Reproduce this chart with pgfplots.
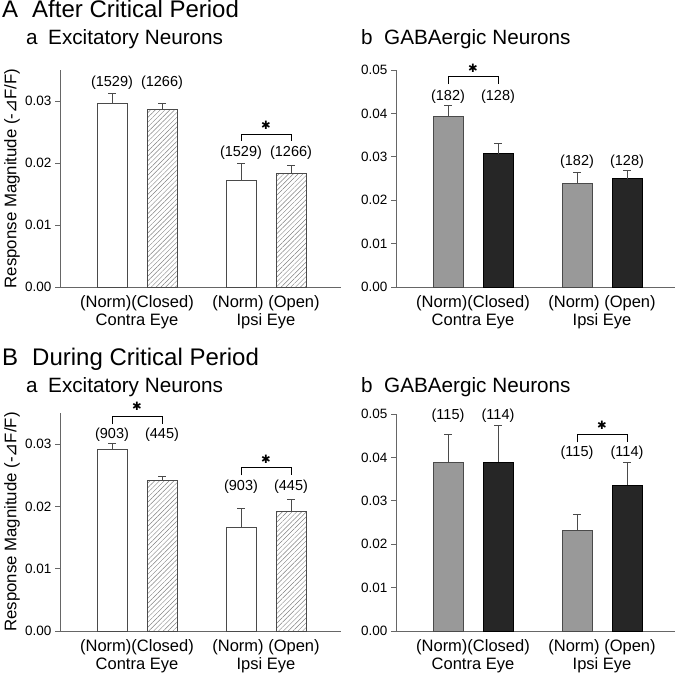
\documentclass[border=0pt]{standalone}
\usepackage{fontspec}
\setmainfont{Liberation Sans}
\newfontfamily\dejavu{DejaVu Sans}
\usepackage{pgfplots}
\usepackage{pgfplotstable}
\pgfplotsset{compat=1.18}
\usetikzlibrary{patterns.meta}
\definecolor{axgray}{HTML}{666666}
\definecolor{edgegray}{HTML}{4A4A4A}
\definecolor{barfill}{HTML}{999999}
\definecolor{darkfill}{HTML}{262626}
\definecolor{hatch}{HTML}{808080}

% data: x  y  err
\pgfplotstableread{
x y e
52 0.0296 0.0016
181 0.0172 0.0028
}\AaNorm
\pgfplotstableread{
x y e
102 0.0287 0.0009
231 0.0183 0.0013
}\AaDep
\pgfplotstableread{
x y e
52 0.0392 0.0027
181 0.0239 0.0026
}\AbNorm
\pgfplotstableread{
x y e
102 0.0307 0.0024
231 0.0250 0.0018
}\AbDep
\pgfplotstableread{
x y e
52 0.0292 0.0009
181 0.0167 0.0030
}\BaNorm
\pgfplotstableread{
x y e
102 0.0241 0.0007
231 0.0192 0.0019
}\BaDep
\pgfplotstableread{
x y e
52 0.0389 0.0063
181 0.0231 0.0038
}\BbNorm
\pgfplotstableread{
x y e
102 0.0389 0.0085
231 0.0336 0.0053
}\BbDep

\tikzset{
  nlab/.style={font=\fontsize{14.5}{14.5}\selectfont},
  star/.style={font=\dejavu\fontsize{11.5}{12}\selectfont, inner sep=0pt},
}
\pgfplotsset{
  panel/.style={
    scale only axis, clip=false,
    xmin=0, ymin=0,
    axis x line=bottom, axis y line=left,
    axis line style={-, draw=axgray, line width=0.9pt},
    xtick={77,206},
    x tick style={draw=none},
    xticklabels={{(Norm)(Closed)\\Contra Eye},{(Norm) (Open)\\Ipsi Eye}},
    xticklabel style={align=center, font=\fontsize{16.5}{18}\selectfont, inner sep=0pt, anchor=north, yshift=-3pt},
    y tick style={draw=axgray, line width=0.9pt},
    tick align=outside, major tick length=5pt,
    scaled y ticks=false,
    /pgf/number format/assume math mode=true,
    yticklabel style={font=\fontsize{13.5}{13.5}\selectfont, /pgf/number format/fixed, /pgf/number format/fixed zerofill, /pgf/number format/precision=2},
    ylabel style={at={(axis description cs:-0.171,0.5)}, anchor=center, font=\fontsize{16.8}{17}\selectfont},
  },
  normbar/.style={ybar, bar width=30pt, bar shift=0pt, draw=edgegray, line width=0.9pt, fill=white},
  hatchbar/.style={ybar, bar width=30pt, bar shift=0pt, draw=edgegray, line width=0.9pt,
     pattern={Lines[angle=45, distance=3.4pt, line width=0.45pt]}, pattern color=hatch},
  graybar/.style={ybar, bar width=30pt, bar shift=0pt, draw=edgegray, line width=0.9pt, fill=barfill},
  blackbar/.style={ybar, bar width=30pt, bar shift=0pt, draw=black, line width=0.9pt, fill=darkfill},
  bracket/.style={sharp plot, no marks, draw=black, line width=0.9pt, forget plot},
  errb/.style={error bars/.cd, y dir=plus, y explicit,
    error bar style={line width=0.9pt, draw=edgegray},
    error mark options={rotate=90, mark size=4pt, line width=0.9pt, draw=edgegray}},
}

\newcommand{\ttl}[1]{\fontsize{24}{24}\selectfont #1}
\newcommand{\sttl}[1]{\fontsize{20.7}{21}\selectfont #1}

\begin{document}
\begin{tikzpicture}[x=1pt,y=1pt]

% ---------- titles ----------
\node[anchor=base west, inner sep=0] at (2,-18) {\ttl{A}};
\node[anchor=base west, inner sep=0] at (32,-18) {\ttl{After Critical Period}};
\node[anchor=base west, inner sep=0] at (26,-45) {\sttl{a}};
\node[anchor=base west, inner sep=0] at (48,-45) {\sttl{Excitatory Neurons}};
\node[anchor=base west, inner sep=0] at (361,-45) {\sttl{b}};
\node[anchor=base west, inner sep=0] at (384,-45) {\sttl{GABAergic Neurons}};

\node[anchor=base west, inner sep=0] at (2,-365) {\ttl{B}};
\node[anchor=base west, inner sep=0] at (32,-365) {\ttl{During Critical Period}};
\node[anchor=base west, inner sep=0] at (26,-392) {\sttl{a}};
\node[anchor=base west, inner sep=0] at (48,-392) {\sttl{Excitatory Neurons}};
\node[anchor=base west, inner sep=0] at (361,-392) {\sttl{b}};
\node[anchor=base west, inner sep=0] at (384,-392) {\sttl{GABAergic Neurons}};

% ---------- A a ----------
\begin{axis}[panel, at={(60pt,-287pt)}, anchor=south west, width=281pt, height=217pt,
  xmax=281, ymax=0.035, ytick={0,0.01,0.02,0.03},
  ylabel={Response Magnitude (-{\dejavu ⊿}F/F)}]
\addplot[normbar, errb] table[x=x,y=y,y error=e] {\AaNorm};
\addplot[hatchbar, errb] table[x=x,y=y,y error=e] {\AaDep};
\addplot[bracket] coordinates {(181,0.02355) (181,0.02468) (231,0.02468) (231,0.02355)};
\node[star] at (axis cs:206,0.0260) {✱};
\node[nlab] at (axis cs:52,0.0329) {(1529)};
\node[nlab] at (axis cs:102,0.0329) {(1266)};
\node[nlab] at (axis cs:181,0.0216) {(1529)};
\node[nlab] at (axis cs:231,0.0216) {(1266)};
\end{axis}

% ---------- A b ----------
\begin{axis}[panel, at={(396pt,-287pt)}, anchor=south west, width=279pt, height=217pt,
  xmax=279, ymax=0.05, ytick={0,0.01,0.02,0.03,0.04,0.05}]
\addplot[graybar, errb] table[x=x,y=y,y error=e] {\AbNorm};
\addplot[blackbar, errb] table[x=x,y=y,y error=e] {\AbDep};
\addplot[bracket] coordinates {(52,0.04677) (52,0.04846) (102,0.04846) (102,0.04677)};
\node[star] at (axis cs:77,0.0503) {✱};
\node[nlab] at (axis cs:52,0.04385) {(182)};
\node[nlab] at (axis cs:102,0.04385) {(128)};
\node[nlab] at (axis cs:181,0.0289) {(182)};
\node[nlab] at (axis cs:231,0.0289) {(128)};
\end{axis}

% ---------- B a ----------
\begin{axis}[panel, at={(60pt,-631pt)}, anchor=south west, width=281pt, height=218pt,
  xmax=281, ymax=0.035, ytick={0,0.01,0.02,0.03},
  ylabel={Response Magnitude (-{\dejavu ⊿}F/F)}]
\addplot[normbar, errb] table[x=x,y=y,y error=e] {\BaNorm};
\addplot[hatchbar, errb] table[x=x,y=y,y error=e] {\BaDep};
\addplot[bracket] coordinates {(52,0.03323) (52,0.03447) (102,0.03447) (102,0.03323)};
\addplot[bracket] coordinates {(181,0.0250) (181,0.02624) (231,0.02624) (231,0.0250)};
\node[star] at (axis cs:77,0.0360) {✱};
\node[star] at (axis cs:206,0.0275) {✱};
\node[nlab] at (axis cs:52,0.03145) {(903)};
\node[nlab] at (axis cs:102,0.03145) {(445)};
\node[nlab] at (axis cs:181,0.02323) {(903)};
\node[nlab] at (axis cs:231,0.02323) {(445)};
\end{axis}

% ---------- B b ----------
\begin{axis}[panel, at={(396pt,-631pt)}, anchor=south west, width=279pt, height=217pt,
  xmax=279, ymax=0.05, ytick={0,0.01,0.02,0.03,0.04,0.05}]
\addplot[graybar, errb] table[x=x,y=y,y error=e] {\BbNorm};
\addplot[blackbar, errb] table[x=x,y=y,y error=e] {\BbDep};
\addplot[bracket] coordinates {(181,0.04349) (181,0.04527) (231,0.04527) (231,0.04349)};
\node[star] at (axis cs:206,0.0474) {✱};
\node[nlab] at (axis cs:52,0.04965) {(115)};
\node[nlab] at (axis cs:102,0.04965) {(114)};
\node[nlab] at (axis cs:181,0.0410) {(115)};
\node[nlab] at (axis cs:231,0.0410) {(114)};
\end{axis}

\pgfresetboundingbox
\useasboundingbox (0pt,0pt) rectangle (676pt,-674pt);
\end{tikzpicture}
\end{document}
